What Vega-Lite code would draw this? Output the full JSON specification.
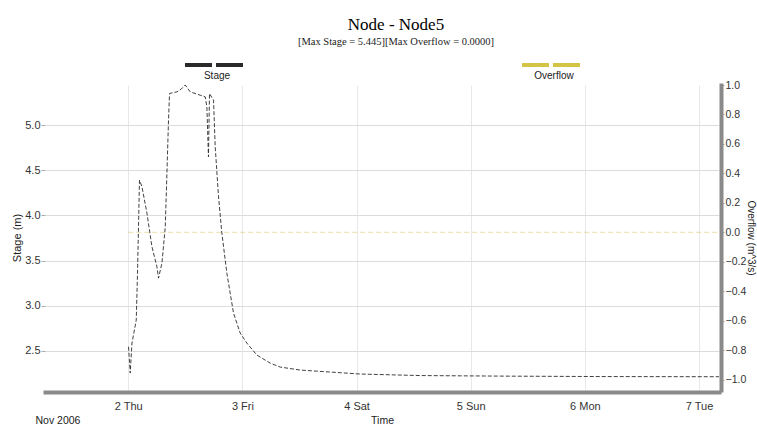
{
  "$schema": "https://vega.github.io/schema/vega-lite/v6.json",
  "width": 674,
  "height": 305,
  "autosize": {"type": "none"},
  "padding": {"left": 45, "top": 85, "right": 38, "bottom": 36},
  "background": "white",
  "title": {
    "text": "Node - Node5",
    "subtitle": "[Max Stage = 5.445][Max Overflow = 0.0000]",
    "anchor": "middle",
    "frame": "group",
    "dx": 14,
    "offset": -14,
    "font": "Liberation Serif",
    "fontSize": 17,
    "fontWeight": "normal",
    "color": "#000",
    "subtitleFont": "Liberation Serif",
    "subtitleFontSize": 10.5,
    "subtitleColor": "#222",
    "subtitlePadding": 3
  },
  "config": {
    "view": {"stroke": null},
    "font": "Liberation Sans",
    "axis": {"labelFont": "Liberation Sans", "titleFont": "Liberation Sans", "labelColor": "#333", "titleColor": "#222", "labelFontSize": 11, "titleFontSize": 11, "titleFontWeight": "normal"}
  },
  "layer": [
    {
      "data": {
        "values": [
          {"time": "2006-11-02T00:04", "stage": 2.544},
          {"time": "2006-11-02T00:25", "stage": 2.253},
          {"time": "2006-11-02T00:47", "stage": 2.585},
          {"time": "2006-11-02T01:41", "stage": 2.84},
          {"time": "2006-11-02T01:57", "stage": 3.36},
          {"time": "2006-11-02T02:22", "stage": 4.391},
          {"time": "2006-11-02T02:53", "stage": 4.317},
          {"time": "2006-11-02T03:56", "stage": 4.025},
          {"time": "2006-11-02T04:59", "stage": 3.652},
          {"time": "2006-11-02T06:02", "stage": 3.43},
          {"time": "2006-11-02T06:22", "stage": 3.305},
          {"time": "2006-11-02T07:05", "stage": 3.471},
          {"time": "2006-11-02T07:47", "stage": 3.873},
          {"time": "2006-11-02T08:08", "stage": 4.468},
          {"time": "2006-11-02T08:28", "stage": 5.055},
          {"time": "2006-11-02T08:41", "stage": 5.351},
          {"time": "2006-11-02T10:14", "stage": 5.369},
          {"time": "2006-11-02T11:08", "stage": 5.399},
          {"time": "2006-11-02T11:59", "stage": 5.445},
          {"time": "2006-11-02T13:02", "stage": 5.369},
          {"time": "2006-11-02T15:08", "stage": 5.332},
          {"time": "2006-11-02T16:11", "stage": 5.314},
          {"time": "2006-11-02T16:32", "stage": 5.203},
          {"time": "2006-11-02T16:52", "stage": 4.649},
          {"time": "2006-11-02T17:05", "stage": 5.351},
          {"time": "2006-11-02T17:56", "stage": 5.277},
          {"time": "2006-11-02T18:17", "stage": 4.76},
          {"time": "2006-11-02T18:59", "stage": 4.206},
          {"time": "2006-11-02T19:41", "stage": 3.804},
          {"time": "2006-11-02T20:44", "stage": 3.36},
          {"time": "2006-11-02T22:08", "stage": 2.917},
          {"time": "2006-11-02T23:32", "stage": 2.696},
          {"time": "2006-11-03T00:56", "stage": 2.585},
          {"time": "2006-11-03T03:03", "stage": 2.452},
          {"time": "2006-11-03T05:50", "stage": 2.363},
          {"time": "2006-11-03T07:57", "stage": 2.319},
          {"time": "2006-11-03T12:09", "stage": 2.286},
          {"time": "2006-11-03T18:27", "stage": 2.264},
          {"time": "2006-11-04T00:46", "stage": 2.242},
          {"time": "2006-11-04T13:22", "stage": 2.225},
          {"time": "2006-11-05T06:10", "stage": 2.219},
          {"time": "2006-11-06T03:12", "stage": 2.214},
          {"time": "2006-11-07T04:12", "stage": 2.212}
        ]
      },
      "mark": {"type": "line", "strokeDash": [4, 2], "strokeWidth": 0.9, "clip": true},
      "encoding": {
        "x": {
          "field": "time", "type": "temporal",
          "scale": {"domain": [{"year": 2006, "month": 11, "date": 1, "hours": 6, "minutes": 30}, {"year": 2006, "month": 11, "date": 7, "hours": 4, "minutes": 12}]},
          "axis": {
            "orient": "bottom", "title": "Time", "format": "%-d %a",
            "tickCount": {"interval": "day", "step": 1},
            "grid": true, "gridColor": "#e8e8e8", "gridWidth": 1,
            "ticks": false, "domainColor": "#8a8a8a", "domainWidth": 4, "domainCap": "square", "offset": 2,
            "labelPadding": 8, "labelFlush": false,
            "titleY": 28, "titleBaseline": "middle", "titleFontSize": 10.5
          }
        },
        "y": {
          "field": "stage", "type": "quantitative",
          "scale": {"domain": [2.065, 5.445], "nice": false, "zero": false},
          "axis": {
            "orient": "left", "title": "Stage (m)", "values": [2.5, 3, 3.5, 4, 4.5, 5], "format": ".1f",
            "grid": true, "gridColor": "#dcdcdc", "domain": false,
            "tickColor": "#aaa", "tickSize": 4, "labelPadding": 1, "titlePadding": 2
          }
        },
        "color": {
          "datum": "Stage", "type": "nominal",
          "scale": {"range": ["#2a2a2a"]},
          "legend": {
            "orient": "none", "legendX": 138, "legendY": -51,
            "title": "Stage", "titleOrient": "bottom", "titleAnchor": "middle",
            "titleFont": "Liberation Sans", "titleFontSize": 10, "titleFontWeight": "normal", "titleColor": "#222", "titlePadding": -2,
            "labelExpr": "''", "labelOffset": 0, "padding": 0,
            "symbolType": "stroke", "symbolSize": 3364, "symbolStrokeWidth": 4, "symbolDash": [27, 4]
          }
        }
      }
    },
    {
      "data": {
        "values": [
          {"time": "2006-11-02T00:00", "overflow": 0},
          {"time": "2006-11-07T04:12", "overflow": 0}
        ]
      },
      "mark": {"type": "line", "strokeDash": [5, 3], "strokeWidth": 1, "strokeOpacity": 0.5, "clip": true},
      "encoding": {
        "x": {
          "field": "time", "type": "temporal",
          "axis": {
            "orient": "bottom", "title": "Nov 2006", "labels": false, "ticks": false, "domain": false, "grid": false,
            "titleAnchor": "start", "titleX": -10, "titleY": 30, "titleBaseline": "middle", "titleFontSize": 10.5
          }
        },
        "y": {
          "field": "overflow", "type": "quantitative",
          "scale": {"domain": [-1.07, 1.0], "nice": false, "zero": false},
          "axis": {
            "orient": "right", "title": "Overflow (m^3/s)", "values": [-1, -0.8, -0.6, -0.4, -0.2, 0, 0.2, 0.4, 0.6, 0.8, 1], "format": ".1f",
            "grid": false, "domainColor": "#8a8a8a", "domainWidth": 4, "domainCap": "square", "offset": 2,
            "tickColor": "#aaa", "tickSize": 3, "labelPadding": 1, "labelFontSize": 10.5, "titlePadding": 0, "titleFontSize": 10
          }
        },
        "color": {
          "datum": "Overflow", "type": "nominal",
          "scale": {"range": ["#d4c445"]},
          "legend": {
            "orient": "none", "legendX": 475, "legendY": -51,
            "title": "Overflow", "titleOrient": "bottom", "titleAnchor": "middle",
            "titleFont": "Liberation Sans", "titleFontSize": 10, "titleFontWeight": "normal", "titleColor": "#222", "titlePadding": -2,
            "labelExpr": "''", "labelOffset": 0, "padding": 0,
            "symbolType": "stroke", "symbolSize": 3364, "symbolStrokeWidth": 4, "symbolDash": [27, 4],
            "symbolOpacity": 1
          }
        }
      }
    }
  ],
  "resolve": {"scale": {"y": "independent", "color": "independent"}, "axis": {"x": "independent"}}
}
